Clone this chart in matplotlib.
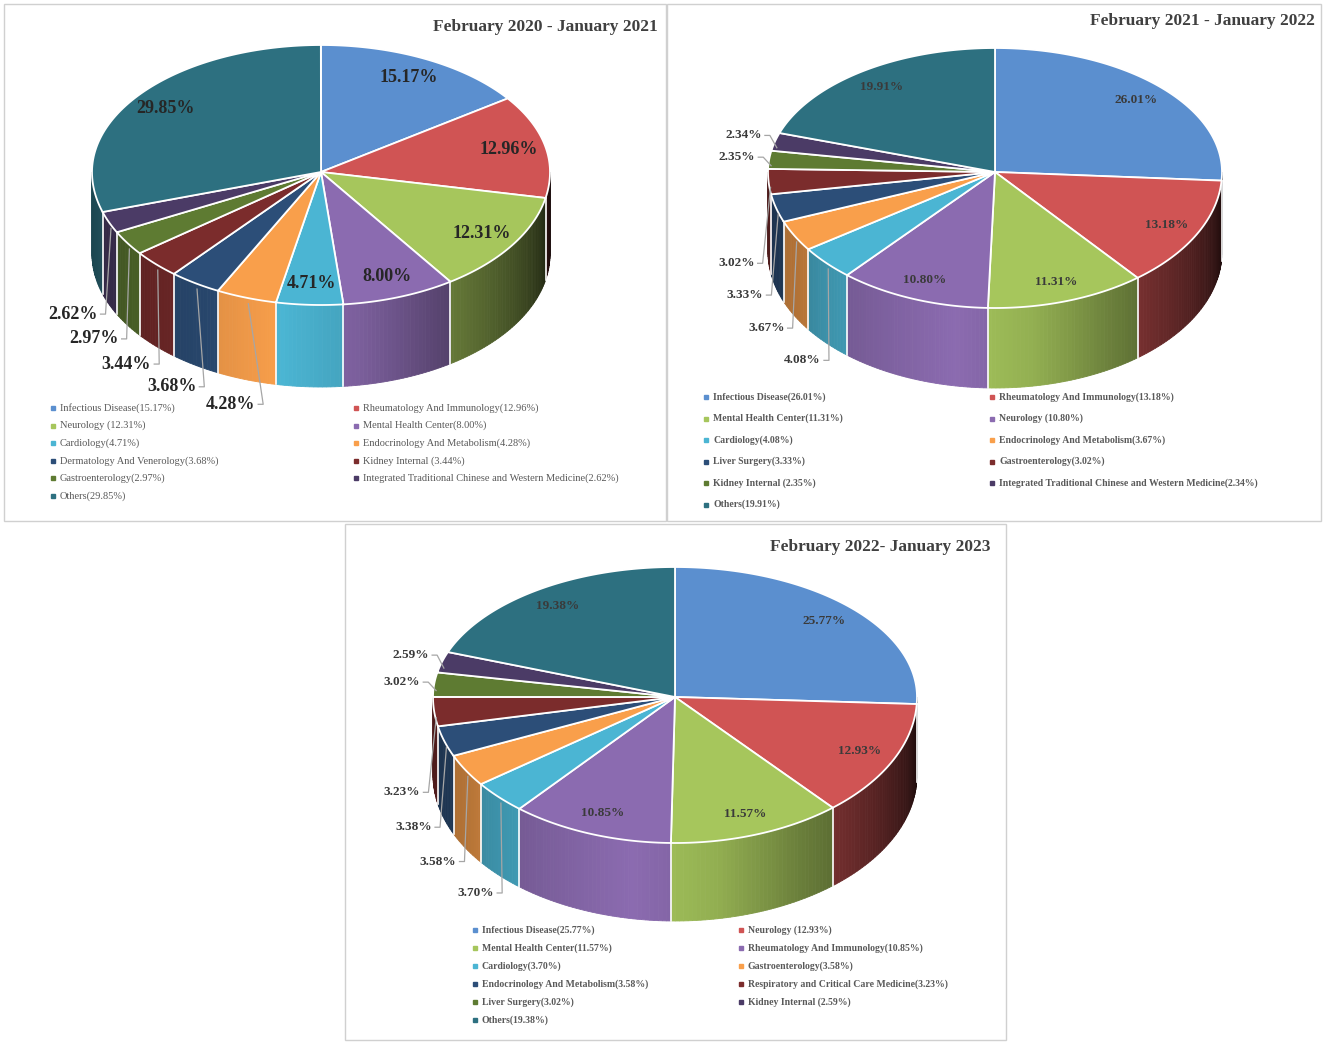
import numpy as np
import matplotlib.pyplot as plt
from matplotlib.patches import Polygon, Rectangle

plt.rcParams['font.family'] = ['Liberation Serif', 'DejaVu Serif']

# slice colours (same order in every chart)
colors = ['#5b8fcf', '#d05454', '#a6c65c', '#8b6bb0', '#4bb5d3', '#f99f4b',
          '#2c4e78', '#7b2c2c', '#5e7b32', '#4b3b66', '#2d7080']

# chart 1: February 2020 - January 2021
p1_values = [15.17, 12.96, 12.31, 8.00, 4.71, 4.28, 3.68, 3.44, 2.97, 2.62, 29.85]
p1_legend = ['Infectious Disease(15.17%)', 'Rheumatology And Immunology(12.96%)',
             'Neurology (12.31%)', 'Mental Health Center(8.00%)',
             'Cardiology(4.71%)', 'Endocrinology And Metabolism(4.28%)',
             'Dermatology And Venerology(3.68%)', 'Kidney Internal (3.44%)',
             'Gastroenterology(2.97%)', 'Integrated Traditional Chinese and Western Medicine(2.62%)',
             'Others(29.85%)']

# chart 2: February 2021 - January 2022
p2_values = [26.01, 13.18, 11.31, 10.80, 4.08, 3.67, 3.33, 3.02, 2.35, 2.34, 19.91]
p2_legend = ['Infectious Disease(26.01%)', 'Rheumatology And Immunology(13.18%)',
             'Mental Health Center(11.31%)', 'Neurology (10.80%)',
             'Cardiology(4.08%)', 'Endocrinology And Metabolism(3.67%)',
             'Liver Surgery(3.33%)', 'Gastroenterology(3.02%)',
             'Kidney Internal (2.35%)', 'Integrated Traditional Chinese and Western Medicine(2.34%)',
             'Others(19.91%)']

# chart 3: February 2022 - January 2023
p3_values = [25.77, 12.93, 11.57, 10.85, 3.70, 3.58, 3.38, 3.23, 3.02, 2.59, 19.38]
p3_legend = ['Infectious Disease(25.77%)', 'Neurology (12.93%)',
             'Mental Health Center(11.57%)', 'Rheumatology And Immunology(10.85%)',
             'Cardiology(3.70%)', 'Gastroenterology(3.58%)',
             'Endocrinology And Metabolism(3.58%)', 'Respiratory and Critical Care Medicine(3.23%)',
             'Liver Surgery(3.02%)', 'Kidney Internal (2.59%)',
             'Others(19.38%)']

fig = plt.figure(figsize=(13.25, 10.44), dpi=100)
ax = fig.add_axes([0, 0, 1, 1])
ax.set_xlim(0, 1325)
ax.set_ylim(1044, 0)
ax.axis('off')

# wall shading vs angle (front half of the cylinder)
shade_ang = [-180, -150, -135, -100, -80, -60, -30, 0]
shade_f = [0.62, 0.72, 0.82, 1.0, 0.88, 0.65, 0.38, 0.1]


def rim(geo, t, dy=0.0):
    cx, cy, rx, ryt, ryb, depth = geo
    t = np.radians(t)
    s = np.sin(t)
    ry = np.where(s > 0, ryt, ryb)
    return cx + rx * np.cos(t), cy - ry * s + dy


def draw_pie(values, geo, lab_size, lab_color, lab_dist):
    cx, cy, rx, ryt, ryb, depth = geo
    ends = 90 - np.cumsum(values) * 3.6
    starts = np.concatenate([[90], ends[:-1]])

    # side walls
    for a1, a2, c in zip(starts, ends, colors):
        hi, lo = min(a1, 0), max(a2, -180)
        if hi <= lo:
            continue
        ts = np.linspace(hi, lo, max(2, int((hi - lo) / 1.0) + 1))
        base = np.array(plt.matplotlib.colors.to_rgb(c))
        for t0, t1 in zip(ts[:-1], ts[1:]):
            f = np.interp((t0 + t1) / 2, shade_ang, shade_f)
            col = np.clip(base * f, 0, 1)
            x0, y0 = rim(geo, t0)
            x1, y1 = rim(geo, t1)
            ax.add_patch(Polygon([(x0, y0), (x1, y1), (x1, y1 + depth), (x0, y0 + depth)],
                                 closed=True, fc=col, ec=col, lw=0.6))
    for a in starts:
        a = ((a + 180) % 360) - 180
        if -180 < a < 0:
            x, y = rim(geo, a)
            ax.plot([x, x], [y, y + depth], color='white', lw=1.2)

    # top face
    for a1, a2, c in zip(starts, ends, colors):
        ts = np.linspace(a1, a2, 80)
        xs, ys = rim(geo, ts)
        pts = [(cx, cy)] + list(zip(xs, ys))
        ax.add_patch(Polygon(pts, closed=True, fc=c, ec='white', lw=1.3))

    # data labels
    for v, a1, a2 in zip(values, starts, ends):
        mid = (a1 + a2) / 2
        txt = f'{v:.2f}%'
        t = np.radians(mid)
        if v >= 4.5:
            ry = ryt if np.sin(t) > 0 else ryb
            x = cx + lab_dist * rx * np.cos(t)
            y = cy - lab_dist * ry * np.sin(t)
            ax.text(x, y, txt, ha='center', va='center', fontsize=lab_size,
                    fontweight='bold', color=lab_color)
        else:
            ax_x, ax_y = rim(geo, mid)
            by = ax_y + depth if np.sin(t) < 0 else ax_y
            lx = ax_x + 34 * np.cos(t) + 20
            ly = by - 26 * np.sin(t)
            ax.text(lx, ly, txt, ha='right', va='center', fontsize=lab_size,
                    fontweight='bold', color=lab_color)
            ax.plot([lx + 3, lx + 8, ax_x + 2], [ly, ly, ax_y + 6],
                    color='#a6a6a6', lw=0.9)


def draw_legend(labels, x0, x1, y0, dy, size, weight):
    for i, (lab, c) in enumerate(zip(labels, colors)):
        x = x0 if i % 2 == 0 else x1
        y = y0 + (i // 2) * dy
        ax.plot([x], [y], marker='s', ms=3.5, color=c, mec=c)
        ax.text(x + 7, y, lab, ha='left', va='center', fontsize=size,
                fontweight=weight, color='#595959')


# panel frames
for (px, py, pw, ph) in [(4, 4, 662, 517), (667, 4, 654, 517), (345, 524, 661, 516)]:
    ax.add_patch(Rectangle((px, py), pw, ph, fill=False, ec='#d0d0d0', lw=1))

# chart 1
ax.text(658, 27, 'February 2020 - January 2021', ha='right', va='center',
        fontsize=12.5, fontweight='bold', color='#404040')
draw_pie(p1_values, (321, 172, 229, 127, 133, 82), 13, '#262626', 0.84)
draw_legend(p1_legend, 53, 356, 408, 17.6, 7.5, 'normal')

# chart 2
ax.text(1315, 21, 'February 2021 - January 2022', ha='right', va='center',
        fontsize=12.5, fontweight='bold', color='#404040')
draw_pie(p2_values, (995, 172, 227, 124, 136, 80), 9.5, '#3a3a3a', 0.85)
draw_legend(p2_legend, 706, 992, 397, 21.5, 7, 'bold')

# chart 3
ax.text(991, 547, 'February 2022- January 2023', ha='right', va='center',
        fontsize=12.5, fontweight='bold', color='#404040')
draw_pie(p3_values, (675, 697, 242, 130, 146, 78), 9.5, '#3a3a3a', 0.85)
draw_legend(p3_legend, 475, 741, 930, 18, 7, 'bold')

fig.savefig('out.png', dpi=100, facecolor='white')
